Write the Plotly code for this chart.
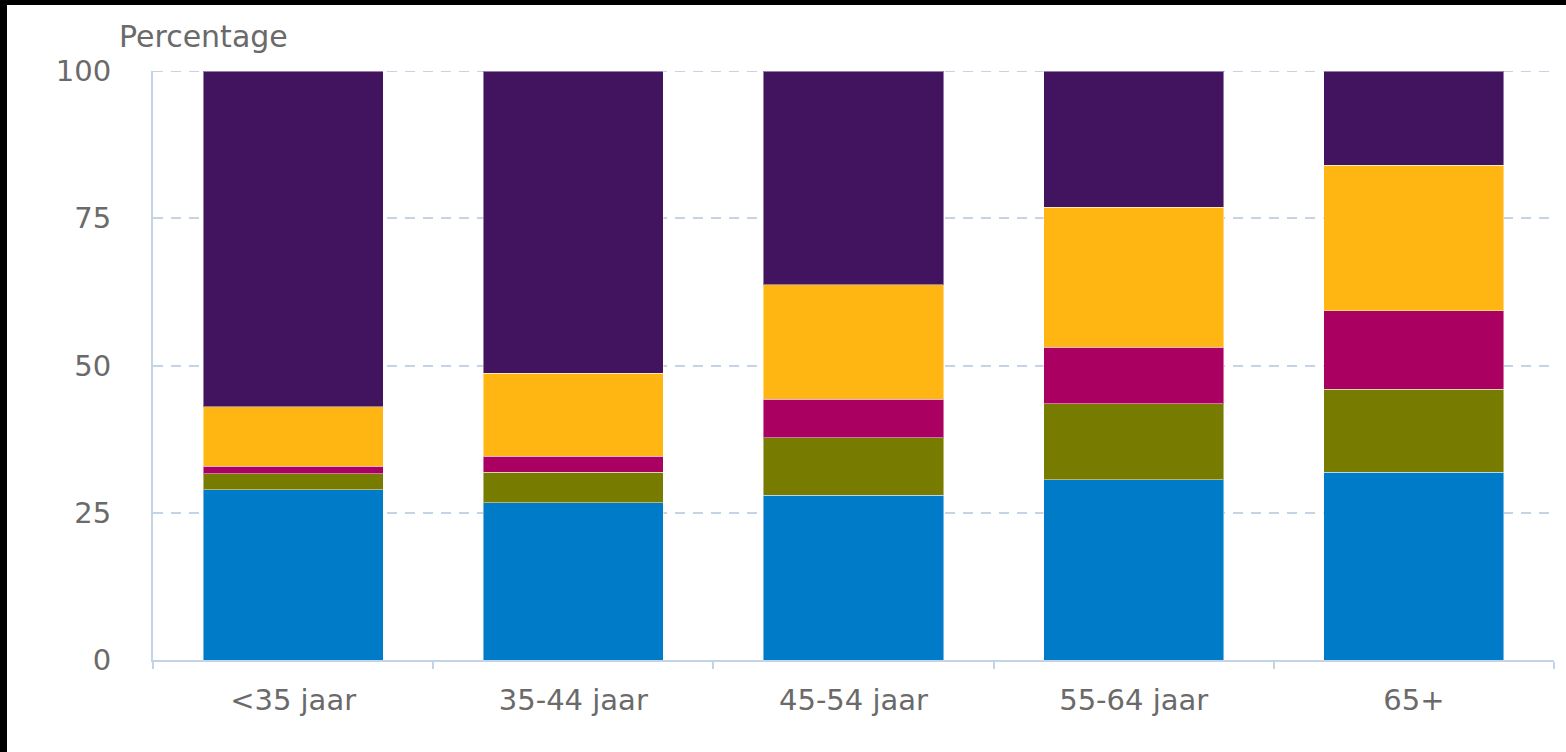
import plotly.graph_objects as go

categories = ["<35 jaar", "35-44 jaar", "45-54 jaar", "55-64 jaar", "65+"]
series_names = ["Blauw", "Groen", "Robijnrood", "Geel", "Violet"]
blue = [28.9, 26.7, 28.0, 30.6, 31.9]
green = [2.7, 5.2, 9.7, 12.9, 14.1]
magenta = [1.3, 2.7, 6.6, 9.6, 13.3]
yellow = [10.1, 14.1, 19.4, 23.8, 24.7]
purple = [57.0, 51.3, 36.3, 23.1, 16.0]
y_ticks = [0, 25, 50, 75, 100]

colors = ["#007bc7", "#777b00", "#a90061", "#ffb612", "#42145f"]
values = [blue, green, magenta, yellow, purple]

fig = go.Figure()
for name, vals, col in zip(series_names, values, colors):
    fig.add_trace(go.Bar(
        x=categories, y=vals, name=name,
        marker=dict(color=col, line=dict(color="rgba(255,255,255,0.45)", width=1)),
    ))

axis_col = "#c5d3e6"
fig.update_layout(
    barmode="stack",
    bargap=0.357,
    width=1566, height=752,
    margin=dict(l=153, r=12, t=71, b=92),
    paper_bgcolor="black",
    plot_bgcolor="white",
    showlegend=False,
    font=dict(family="DejaVu Sans, Verdana, sans-serif", color="#6a6a6a", size=29),
    xaxis=dict(
        showline=True, linecolor=axis_col, linewidth=2,
        ticks="outside", ticklen=7, tickwidth=2, tickcolor=axis_col,
        tickson="boundaries", showgrid=False,
        tickfont=dict(size=29, color="#6a6a6a"),
        ticklabelstandoff=13,
    ),
    yaxis=dict(
        range=[0, 100], tickvals=y_ticks, showline=True, linecolor=axis_col, linewidth=2,
        showgrid=True, gridcolor=axis_col, gridwidth=2, griddash="10px,8px",
        zeroline=False, ticks="", ticklabelstandoff=34,
        tickfont=dict(size=29, color="#6a6a6a"),
    ),
    shapes=[
        dict(
            type="rect", xref="paper", yref="paper",
            x0=(7 - 153) / 1401, x1=1.1, y0=-0.3, y1=(660 - 5) / 589,
            fillcolor="white", line=dict(width=0), layer="below",
        ),
        dict(
            type="line", xref="paper", yref="y",
            x0=0, x1=1, y0=y_ticks[-1], y1=y_ticks[-1],
            line=dict(color=axis_col, width=2, dash="10px,8px"), layer="below",
        ),
    ],
    annotations=[dict(
        text="Percentage", xref="paper", yref="paper",
        x=(117 - 153) / 1401, y=(660 - 36) / 589, xanchor="left", yanchor="middle",
        showarrow=False, font=dict(size=30, color="#6a6a6a"),
    )],
)

fig.write_html(
    "out.html",
    config={"displayModeBar": False},
    post_script="document.body.style.margin='0';document.body.style.overflow='hidden';",
)
